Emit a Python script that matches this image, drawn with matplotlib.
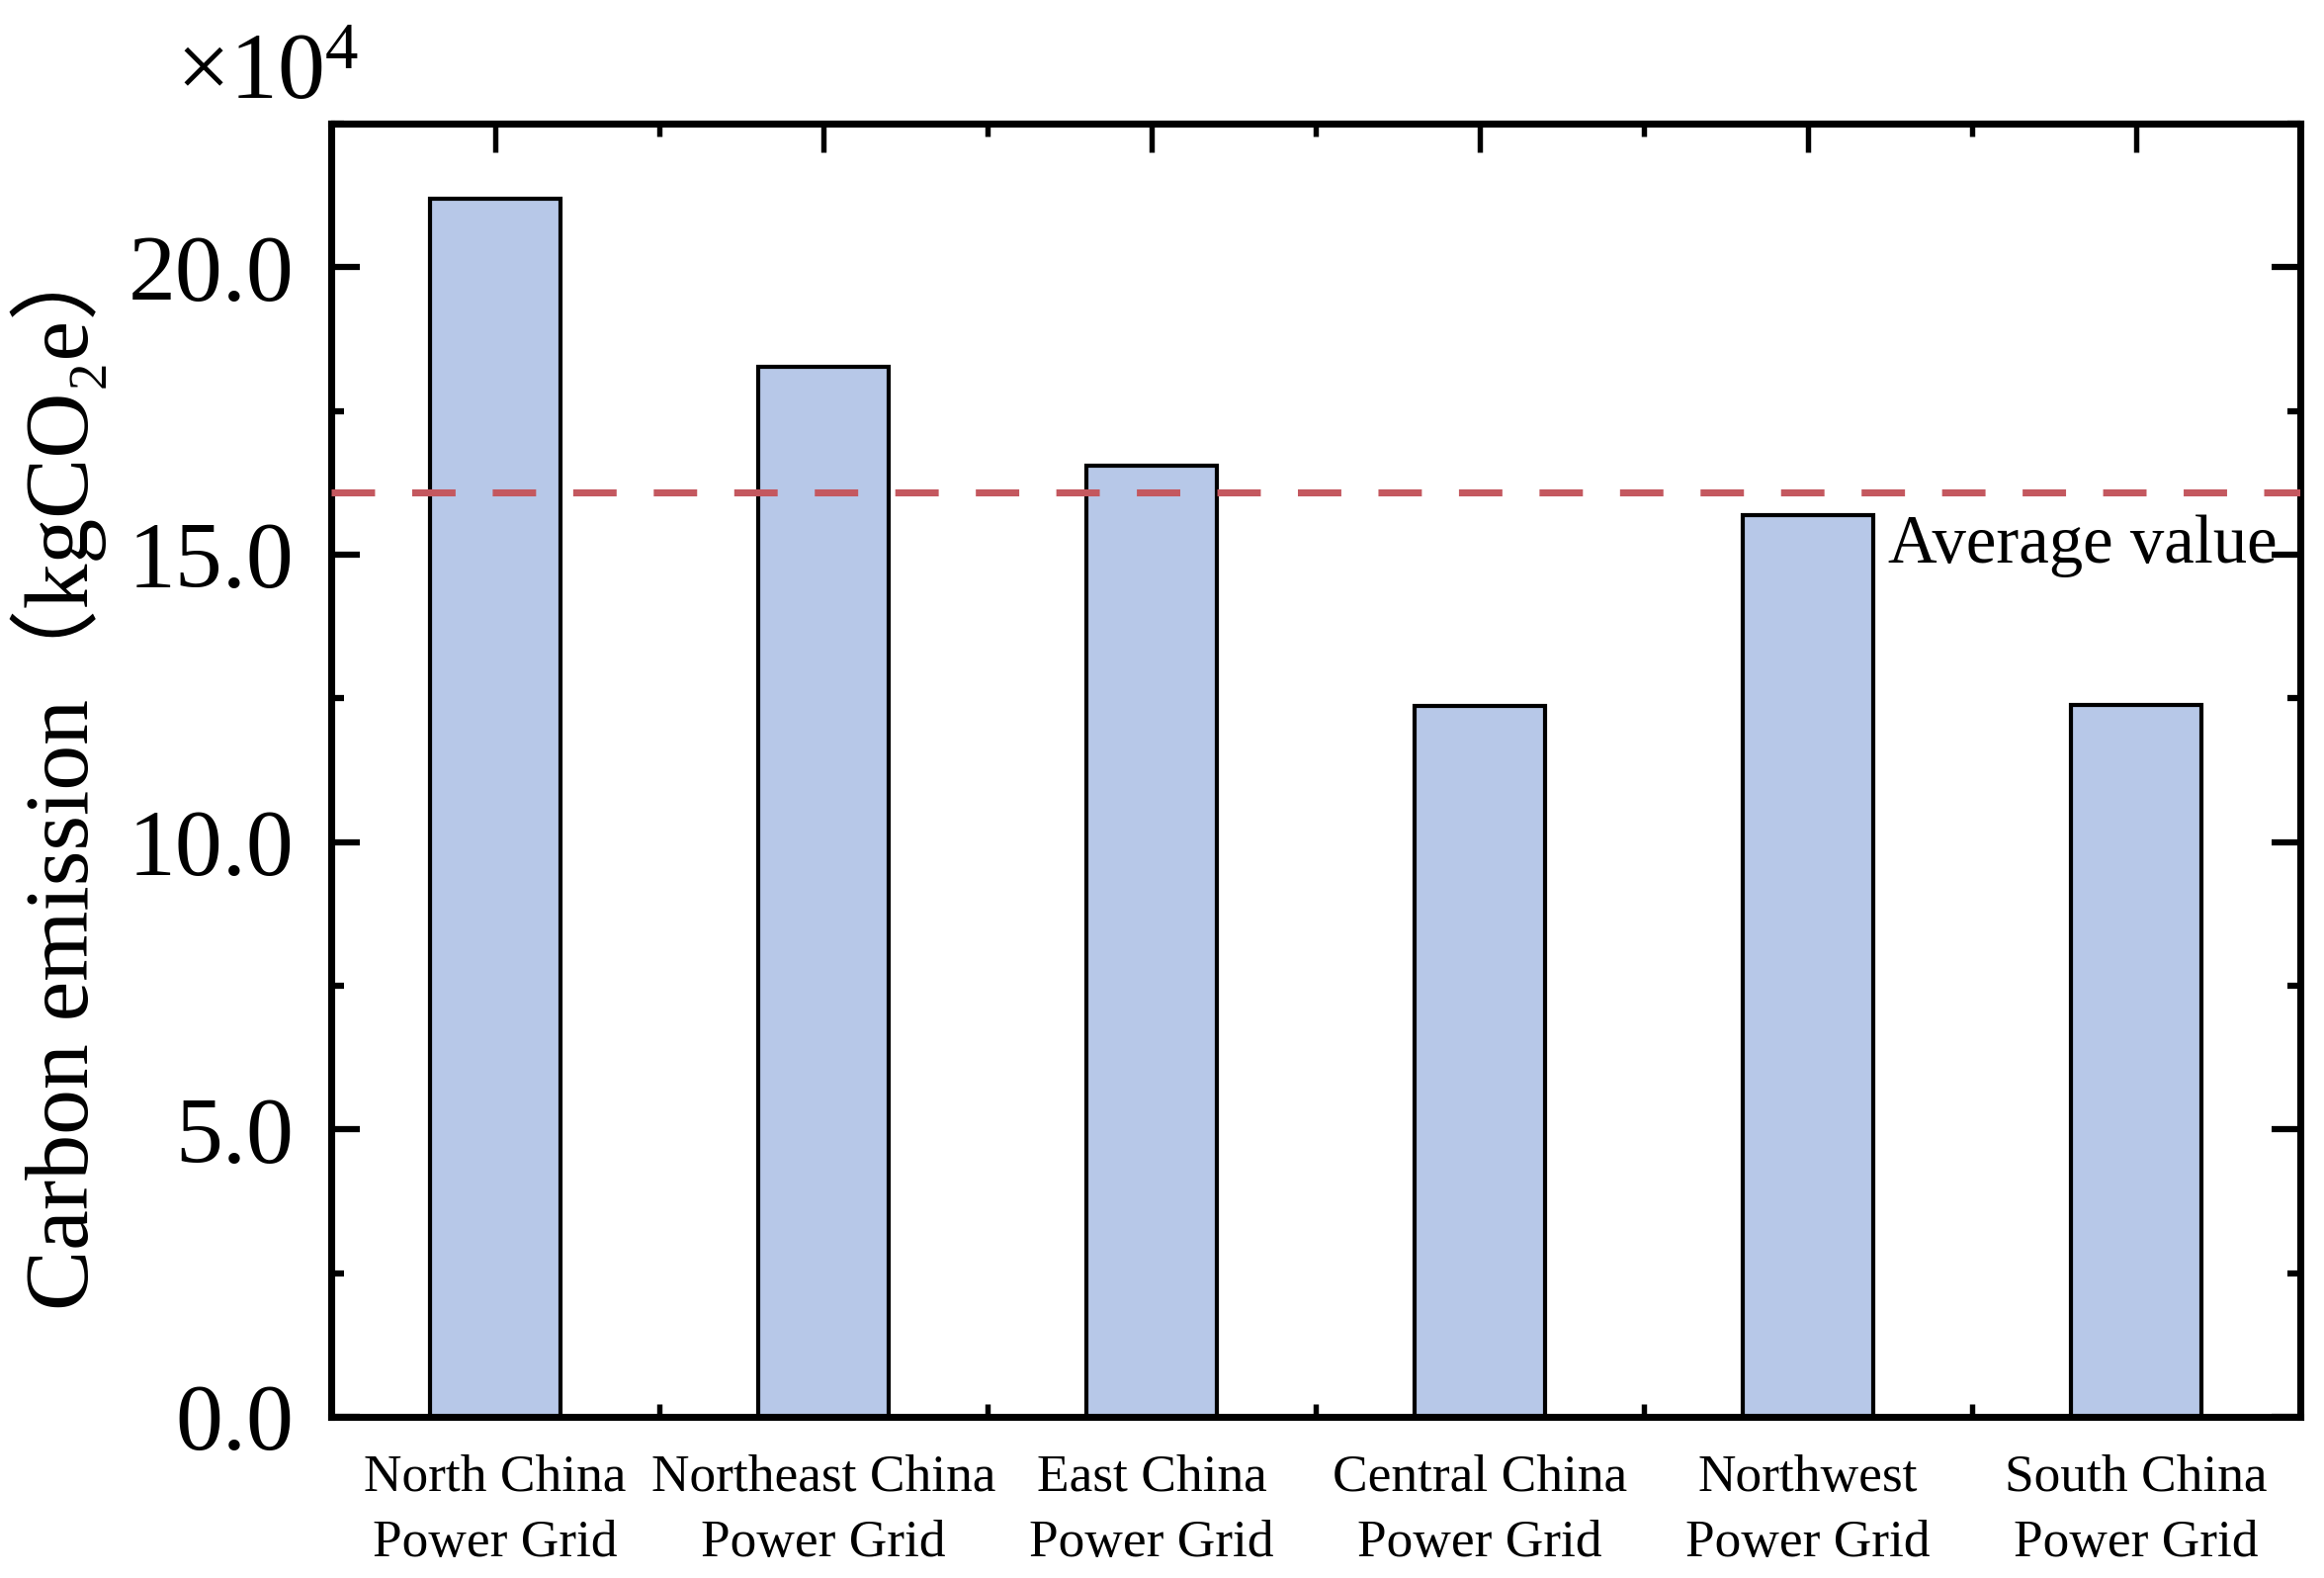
import numpy as np
import matplotlib
matplotlib.use('Agg')
import matplotlib.pyplot as plt
from matplotlib.ticker import MultipleLocator, FormatStrFormatter

plt.rcParams['font.family'] = ['Liberation Serif', 'DejaVu Serif', 'Noto Sans CJK SC']
plt.rcParams['mathtext.fontset'] = 'custom'
plt.rcParams['mathtext.rm'] = 'Liberation Serif'
plt.rcParams['mathtext.it'] = 'Liberation Serif:italic'

grids = ['North China\nPower Grid', 'Northeast China\nPower Grid', 'East China\nPower Grid',
         'Central China\nPower Grid', 'Northwest\nPower Grid', 'South China\nPower Grid']
emission = [21.2, 18.27, 16.54, 12.36, 15.69, 12.39]   # x 10^4 kgCO2e
avg_value = 16.08

fig = plt.figure(figsize=(2351 / 300, 1596 / 300), dpi=300)
ax = fig.add_axes([0.1425, 0.1021, 0.8473, 0.8196])

x = np.arange(len(grids))
ax.bar(x, emission, width=0.4, color='#B7C8E8', edgecolor='black', linewidth=1.0, zorder=2)
ax.axhline(avg_value, color='#C4585F', linewidth=1.7, linestyle=(0, (6.2, 5.3)), zorder=3)
ax.text(0.9885, 14.86, 'Average value', transform=ax.get_yaxis_transform(),
        ha='right', va='baseline', fontsize=16.5, zorder=4)

ax.set_xlim(-0.5, 5.5)
ax.set_ylim(0, 22.5)
ax.set_xticks(x)
ax.set_xticklabels(grids, fontsize=12.8, linespacing=1.5)
ax.xaxis.set_minor_locator(MultipleLocator(0.5))
ax.yaxis.set_major_locator(MultipleLocator(5))
ax.yaxis.set_minor_locator(MultipleLocator(2.5))
ax.yaxis.set_major_formatter(FormatStrFormatter('%.1f'))

ax.tick_params(which='both', direction='in', top=True, right=True)
ax.tick_params(axis='y', which='major', length=7, width=1.5, labelsize=23, pad=9)
ax.tick_params(axis='y', which='minor', length=3.2, width=1.5)
ax.tick_params(axis='x', which='major', length=7, width=1.3, pad=9)
ax.tick_params(axis='x', which='minor', length=3.2, width=1.3)
for s in ax.spines.values():
    s.set_linewidth(1.7)

ax.set_ylabel('Carbon emission（kgCO₂e）', fontsize=22)
ax.yaxis.set_label_coords(-0.114, 0.5)

fig.text(178 / 2351, 1 - 100 / 1596, r'$\times10^{4}$', fontsize=23, ha='left', va='baseline')

fig.savefig('out.png', dpi=300)
